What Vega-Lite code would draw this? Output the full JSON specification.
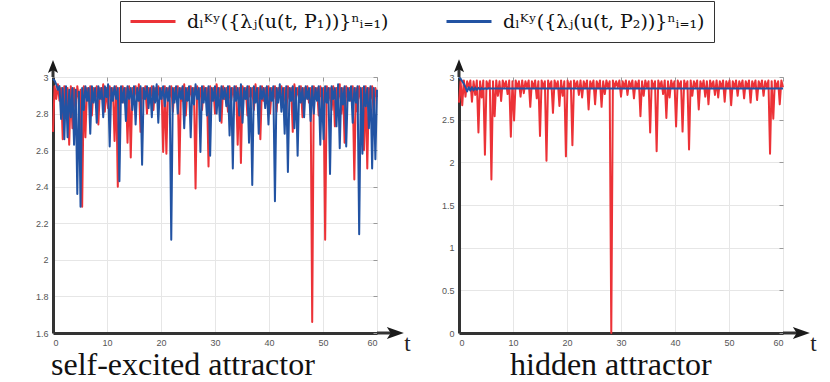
{
"$schema": "https://vega.github.io/schema/vega-lite/v6.json",
"background": "white",
"padding": {"left": 34, "top": 0, "right": 0, "bottom": 0},
"config": {
  "view": {"stroke": "#999", "strokeWidth": 1},
  "axis": {"labelFont": "Liberation Sans", "labelFontSize": 9, "labelColor": "#555"}
},
"datasets": {
"lr": [{"t":0,"v":2.70},{"t":0.3,"v":2.95},{"t":0.6,"v":2.88},{"t":0.9,"v":2.96},{"t":1.2,"v":2.87},{"t":1.5,"v":2.94},{"t":1.8,"v":2.66},{"t":2.1,"v":2.95},{"t":2.4,"v":2.80},{"t":2.7,"v":2.94},{"t":3.0,"v":2.63},{"t":3.3,"v":2.95},{"t":3.6,"v":2.72},{"t":3.9,"v":2.94},{"t":4.2,"v":2.82},{"t":4.5,"v":2.95},{"t":4.8,"v":2.88},{"t":5.1,"v":2.93},{"t":5.4,"v":2.29},{"t":5.7,"v":2.95},{"t":6.0,"v":2.67},{"t":6.3,"v":2.94},{"t":6.6,"v":2.87},{"t":6.9,"v":2.95},{"t":7.2,"v":2.79},{"t":7.5,"v":2.94},{"t":7.8,"v":2.89},{"t":8.1,"v":2.95},{"t":8.4,"v":2.74},{"t":8.7,"v":2.94},{"t":9.0,"v":2.88},{"t":9.3,"v":2.96},{"t":9.6,"v":2.81},{"t":9.9,"v":2.94},{"t":10.2,"v":2.83},{"t":10.5,"v":2.95},{"t":10.8,"v":2.89},{"t":11.1,"v":2.94},{"t":11.4,"v":2.65},{"t":11.7,"v":2.95},{"t":12.0,"v":2.40},{"t":12.3,"v":2.94},{"t":12.6,"v":2.88},{"t":12.9,"v":2.95},{"t":13.2,"v":2.86},{"t":13.5,"v":2.94},{"t":13.8,"v":2.64},{"t":14.1,"v":2.95},{"t":14.4,"v":2.56},{"t":14.7,"v":2.94},{"t":15.0,"v":2.89},{"t":15.3,"v":2.95},{"t":15.6,"v":2.87},{"t":15.9,"v":2.96},{"t":16.2,"v":2.70},{"t":16.5,"v":2.94},{"t":16.8,"v":2.88},{"t":17.1,"v":2.95},{"t":17.4,"v":2.80},{"t":17.7,"v":2.94},{"t":18.0,"v":2.89},{"t":18.3,"v":2.95},{"t":18.6,"v":2.82},{"t":18.9,"v":2.94},{"t":19.2,"v":2.87},{"t":19.5,"v":2.95},{"t":19.8,"v":2.88},{"t":20.1,"v":2.94},{"t":20.4,"v":2.59},{"t":20.7,"v":2.95},{"t":21.0,"v":2.58},{"t":21.3,"v":2.94},{"t":21.6,"v":2.89},{"t":21.9,"v":2.95},{"t":22.2,"v":2.81},{"t":22.5,"v":2.94},{"t":22.8,"v":2.88},{"t":23.1,"v":2.95},{"t":23.4,"v":2.47},{"t":23.7,"v":2.94},{"t":24.0,"v":2.87},{"t":24.3,"v":2.96},{"t":24.6,"v":2.79},{"t":24.9,"v":2.94},{"t":25.2,"v":2.89},{"t":25.5,"v":2.95},{"t":25.8,"v":2.86},{"t":26.1,"v":2.94},{"t":26.4,"v":2.39},{"t":26.7,"v":2.95},{"t":27.0,"v":2.88},{"t":27.3,"v":2.94},{"t":27.6,"v":2.82},{"t":27.9,"v":2.95},{"t":28.2,"v":2.89},{"t":28.5,"v":2.94},{"t":28.8,"v":2.51},{"t":29.1,"v":2.95},{"t":29.4,"v":2.87},{"t":29.7,"v":2.94},{"t":30.0,"v":2.80},{"t":30.3,"v":2.96},{"t":30.6,"v":2.89},{"t":30.9,"v":2.94},{"t":31.2,"v":2.75},{"t":31.5,"v":2.95},{"t":31.8,"v":2.88},{"t":32.1,"v":2.94},{"t":32.4,"v":2.81},{"t":32.7,"v":2.95},{"t":33.0,"v":2.87},{"t":33.3,"v":2.94},{"t":33.6,"v":2.89},{"t":33.9,"v":2.95},{"t":34.2,"v":2.63},{"t":34.5,"v":2.94},{"t":34.8,"v":2.53},{"t":35.1,"v":2.95},{"t":35.4,"v":2.88},{"t":35.7,"v":2.94},{"t":36.0,"v":2.79},{"t":36.3,"v":2.95},{"t":36.6,"v":2.89},{"t":36.9,"v":2.94},{"t":37.2,"v":2.82},{"t":37.5,"v":2.96},{"t":37.8,"v":2.88},{"t":38.1,"v":2.94},{"t":38.4,"v":2.66},{"t":38.7,"v":2.95},{"t":39.0,"v":2.87},{"t":39.3,"v":2.94},{"t":39.6,"v":2.89},{"t":39.9,"v":2.95},{"t":40.2,"v":2.80},{"t":40.5,"v":2.94},{"t":40.8,"v":2.88},{"t":41.1,"v":2.95},{"t":41.4,"v":2.81},{"t":41.7,"v":2.94},{"t":42.0,"v":2.89},{"t":42.3,"v":2.95},{"t":42.6,"v":2.86},{"t":42.9,"v":2.94},{"t":43.2,"v":2.80},{"t":43.5,"v":2.95},{"t":43.8,"v":2.88},{"t":44.1,"v":2.94},{"t":44.4,"v":2.70},{"t":44.7,"v":2.96},{"t":45.0,"v":2.89},{"t":45.3,"v":2.94},{"t":45.6,"v":2.87},{"t":45.9,"v":2.95},{"t":46.2,"v":2.78},{"t":46.5,"v":2.94},{"t":46.8,"v":2.88},{"t":47.1,"v":2.95},{"t":47.4,"v":2.86},{"t":47.7,"v":2.94},{"t":48.0,"v":1.66},{"t":48.3,"v":2.95},{"t":48.6,"v":2.88},{"t":48.9,"v":2.94},{"t":49.2,"v":2.79},{"t":49.5,"v":2.95},{"t":49.8,"v":2.89},{"t":50.1,"v":2.94},{"t":50.4,"v":2.11},{"t":50.7,"v":2.95},{"t":51.0,"v":2.87},{"t":51.3,"v":2.94},{"t":51.6,"v":2.82},{"t":51.9,"v":2.95},{"t":52.2,"v":2.73},{"t":52.5,"v":2.94},{"t":52.8,"v":2.88},{"t":53.1,"v":2.96},{"t":53.4,"v":2.80},{"t":53.7,"v":2.94},{"t":54.0,"v":2.64},{"t":54.3,"v":2.95},{"t":54.6,"v":2.89},{"t":54.9,"v":2.94},{"t":55.2,"v":2.87},{"t":55.5,"v":2.95},{"t":55.8,"v":2.44},{"t":56.1,"v":2.94},{"t":56.4,"v":2.81},{"t":56.7,"v":2.95},{"t":57.0,"v":2.88},{"t":57.3,"v":2.94},{"t":57.6,"v":2.60},{"t":57.9,"v":2.95},{"t":58.2,"v":2.50},{"t":58.5,"v":2.94},{"t":58.8,"v":2.88},{"t":59.1,"v":2.95},{"t":59.4,"v":2.79},{"t":59.7,"v":2.94},{"t":60.0,"v":2.89}],
"lb": [{"t":0,"v":2.99},{"t":0.3,"v":2.98},{"t":0.6,"v":2.96},{"t":0.9,"v":2.93},{"t":1.2,"v":2.95},{"t":1.5,"v":2.77},{"t":1.8,"v":2.94},{"t":2.1,"v":2.66},{"t":2.4,"v":2.95},{"t":2.7,"v":2.67},{"t":3.0,"v":2.93},{"t":3.3,"v":2.78},{"t":3.6,"v":2.94},{"t":3.9,"v":2.63},{"t":4.2,"v":2.93},{"t":4.5,"v":2.36},{"t":4.8,"v":2.92},{"t":5.1,"v":2.29},{"t":5.4,"v":2.94},{"t":5.7,"v":2.82},{"t":6.0,"v":2.95},{"t":6.3,"v":2.87},{"t":6.6,"v":2.94},{"t":6.9,"v":2.69},{"t":7.2,"v":2.95},{"t":7.5,"v":2.86},{"t":7.8,"v":2.94},{"t":8.1,"v":2.75},{"t":8.4,"v":2.95},{"t":8.7,"v":2.88},{"t":9.0,"v":2.94},{"t":9.3,"v":2.78},{"t":9.6,"v":2.95},{"t":9.9,"v":2.89},{"t":10.2,"v":2.96},{"t":10.5,"v":2.62},{"t":10.8,"v":2.94},{"t":11.1,"v":2.87},{"t":11.4,"v":2.95},{"t":11.7,"v":2.88},{"t":12.0,"v":2.94},{"t":12.3,"v":2.43},{"t":12.6,"v":2.95},{"t":12.9,"v":2.86},{"t":13.2,"v":2.94},{"t":13.5,"v":2.76},{"t":13.8,"v":2.95},{"t":14.1,"v":2.88},{"t":14.4,"v":2.94},{"t":14.7,"v":2.82},{"t":15.0,"v":2.95},{"t":15.3,"v":2.74},{"t":15.6,"v":2.94},{"t":15.9,"v":2.87},{"t":16.2,"v":2.95},{"t":16.5,"v":2.52},{"t":16.8,"v":2.94},{"t":17.1,"v":2.88},{"t":17.4,"v":2.95},{"t":17.7,"v":2.83},{"t":18.0,"v":2.94},{"t":18.3,"v":2.78},{"t":18.6,"v":2.95},{"t":18.9,"v":2.86},{"t":19.2,"v":2.96},{"t":19.5,"v":2.75},{"t":19.8,"v":2.94},{"t":20.1,"v":2.88},{"t":20.4,"v":2.95},{"t":20.7,"v":2.84},{"t":21.0,"v":2.94},{"t":21.3,"v":2.87},{"t":21.6,"v":2.95},{"t":21.9,"v":2.11},{"t":22.2,"v":2.94},{"t":22.5,"v":2.86},{"t":22.8,"v":2.95},{"t":23.1,"v":2.80},{"t":23.4,"v":2.94},{"t":23.7,"v":2.88},{"t":24.0,"v":2.95},{"t":24.3,"v":2.72},{"t":24.6,"v":2.94},{"t":24.9,"v":2.87},{"t":25.2,"v":2.95},{"t":25.5,"v":2.67},{"t":25.8,"v":2.94},{"t":26.1,"v":2.85},{"t":26.4,"v":2.96},{"t":26.7,"v":2.88},{"t":27.0,"v":2.94},{"t":27.3,"v":2.59},{"t":27.6,"v":2.95},{"t":27.9,"v":2.86},{"t":28.2,"v":2.94},{"t":28.5,"v":2.79},{"t":28.8,"v":2.95},{"t":29.1,"v":2.57},{"t":29.4,"v":2.94},{"t":29.7,"v":2.87},{"t":30.0,"v":2.95},{"t":30.3,"v":2.80},{"t":30.6,"v":2.94},{"t":30.9,"v":2.76},{"t":31.2,"v":2.95},{"t":31.5,"v":2.88},{"t":31.8,"v":2.94},{"t":32.1,"v":2.84},{"t":32.4,"v":2.95},{"t":32.7,"v":2.68},{"t":33.0,"v":2.94},{"t":33.3,"v":2.50},{"t":33.6,"v":2.95},{"t":33.9,"v":2.87},{"t":34.2,"v":2.94},{"t":34.5,"v":2.79},{"t":34.8,"v":2.96},{"t":35.1,"v":2.75},{"t":35.4,"v":2.94},{"t":35.7,"v":2.88},{"t":36.0,"v":2.95},{"t":36.3,"v":2.64},{"t":36.6,"v":2.94},{"t":36.9,"v":2.41},{"t":37.2,"v":2.95},{"t":37.5,"v":2.86},{"t":37.8,"v":2.94},{"t":38.1,"v":2.69},{"t":38.4,"v":2.95},{"t":38.7,"v":2.88},{"t":39.0,"v":2.94},{"t":39.3,"v":2.83},{"t":39.6,"v":2.95},{"t":39.9,"v":2.74},{"t":40.2,"v":2.94},{"t":40.5,"v":2.87},{"t":40.8,"v":2.95},{"t":41.1,"v":2.32},{"t":41.4,"v":2.94},{"t":41.7,"v":2.86},{"t":42.0,"v":2.96},{"t":42.3,"v":2.81},{"t":42.6,"v":2.94},{"t":42.9,"v":2.69},{"t":43.2,"v":2.95},{"t":43.5,"v":2.48},{"t":43.8,"v":2.94},{"t":44.1,"v":2.87},{"t":44.4,"v":2.95},{"t":44.7,"v":2.72},{"t":45.0,"v":2.94},{"t":45.3,"v":2.57},{"t":45.6,"v":2.95},{"t":45.9,"v":2.86},{"t":46.2,"v":2.94},{"t":46.5,"v":2.78},{"t":46.8,"v":2.95},{"t":47.1,"v":2.88},{"t":47.4,"v":2.94},{"t":47.7,"v":2.76},{"t":48.0,"v":2.95},{"t":48.3,"v":2.80},{"t":48.6,"v":2.94},{"t":48.9,"v":2.87},{"t":49.2,"v":2.95},{"t":49.5,"v":2.63},{"t":49.8,"v":2.94},{"t":50.1,"v":2.66},{"t":50.4,"v":2.95},{"t":50.7,"v":2.86},{"t":51.0,"v":2.94},{"t":51.3,"v":2.47},{"t":51.6,"v":2.95},{"t":51.9,"v":2.88},{"t":52.2,"v":2.94},{"t":52.5,"v":2.73},{"t":52.8,"v":2.96},{"t":53.1,"v":2.61},{"t":53.4,"v":2.94},{"t":53.7,"v":2.85},{"t":54.0,"v":2.95},{"t":54.3,"v":2.62},{"t":54.6,"v":2.94},{"t":54.9,"v":2.87},{"t":55.2,"v":2.95},{"t":55.5,"v":2.75},{"t":55.8,"v":2.94},{"t":56.1,"v":2.86},{"t":56.4,"v":2.95},{"t":56.7,"v":2.14},{"t":57.0,"v":2.94},{"t":57.3,"v":2.58},{"t":57.6,"v":2.95},{"t":57.9,"v":2.84},{"t":58.2,"v":2.94},{"t":58.5,"v":2.72},{"t":58.8,"v":2.95},{"t":59.1,"v":2.50},{"t":59.4,"v":2.94},{"t":59.7,"v":2.55},{"t":60.0,"v":2.93}],
"rr": [{"t":0,"v":2.70},{"t":0.3,"v":2.95},{"t":0.6,"v":2.67},{"t":0.9,"v":2.96},{"t":1.2,"v":2.77},{"t":1.5,"v":2.95},{"t":1.8,"v":2.88},{"t":2.1,"v":2.96},{"t":2.4,"v":2.71},{"t":2.7,"v":2.95},{"t":3.0,"v":2.79},{"t":3.3,"v":2.96},{"t":3.6,"v":2.35},{"t":3.9,"v":2.95},{"t":4.2,"v":2.76},{"t":4.5,"v":2.96},{"t":4.8,"v":2.09},{"t":5.1,"v":2.95},{"t":5.4,"v":2.88},{"t":5.7,"v":2.96},{"t":6.0,"v":1.80},{"t":6.3,"v":2.95},{"t":6.6,"v":2.54},{"t":6.9,"v":2.96},{"t":7.2,"v":2.78},{"t":7.5,"v":2.95},{"t":7.8,"v":2.72},{"t":8.1,"v":2.96},{"t":8.4,"v":2.88},{"t":8.7,"v":2.95},{"t":9.0,"v":2.80},{"t":9.3,"v":2.96},{"t":9.6,"v":2.30},{"t":9.9,"v":2.95},{"t":10.2,"v":2.49},{"t":10.5,"v":2.96},{"t":10.8,"v":2.87},{"t":11.1,"v":2.95},{"t":11.4,"v":2.77},{"t":11.7,"v":2.96},{"t":12.0,"v":2.81},{"t":12.3,"v":2.95},{"t":12.6,"v":2.88},{"t":12.9,"v":2.96},{"t":13.2,"v":2.65},{"t":13.5,"v":2.95},{"t":13.8,"v":2.87},{"t":14.1,"v":2.96},{"t":14.4,"v":2.75},{"t":14.7,"v":2.95},{"t":15.0,"v":2.31},{"t":15.3,"v":2.96},{"t":15.6,"v":2.88},{"t":15.9,"v":2.95},{"t":16.2,"v":2.02},{"t":16.5,"v":2.96},{"t":16.8,"v":2.87},{"t":17.1,"v":2.95},{"t":17.4,"v":2.58},{"t":17.7,"v":2.96},{"t":18.0,"v":2.88},{"t":18.3,"v":2.95},{"t":18.6,"v":2.66},{"t":18.9,"v":2.96},{"t":19.2,"v":2.78},{"t":19.5,"v":2.95},{"t":19.8,"v":2.07},{"t":20.1,"v":2.96},{"t":20.4,"v":2.87},{"t":20.7,"v":2.95},{"t":21.0,"v":2.20},{"t":21.3,"v":2.96},{"t":21.6,"v":2.88},{"t":21.9,"v":2.95},{"t":22.2,"v":2.79},{"t":22.5,"v":2.96},{"t":22.8,"v":2.76},{"t":23.1,"v":2.95},{"t":23.4,"v":2.87},{"t":23.7,"v":2.96},{"t":24.0,"v":2.62},{"t":24.3,"v":2.95},{"t":24.6,"v":2.88},{"t":24.9,"v":2.96},{"t":25.2,"v":2.68},{"t":25.5,"v":2.95},{"t":25.8,"v":2.87},{"t":26.1,"v":2.96},{"t":26.4,"v":2.65},{"t":26.7,"v":2.95},{"t":27.0,"v":2.80},{"t":27.3,"v":2.96},{"t":27.6,"v":2.88},{"t":27.9,"v":2.95},{"t":28.2,"v":0.0},{"t":28.5,"v":2.96},{"t":28.8,"v":2.87},{"t":29.1,"v":2.95},{"t":29.4,"v":2.88},{"t":29.7,"v":2.96},{"t":30.0,"v":2.77},{"t":30.3,"v":2.95},{"t":30.6,"v":2.87},{"t":30.9,"v":2.96},{"t":31.2,"v":2.79},{"t":31.5,"v":2.95},{"t":31.8,"v":2.88},{"t":32.1,"v":2.96},{"t":32.4,"v":2.75},{"t":32.7,"v":2.95},{"t":33.0,"v":2.87},{"t":33.3,"v":2.96},{"t":33.6,"v":2.54},{"t":33.9,"v":2.95},{"t":34.2,"v":2.78},{"t":34.5,"v":2.96},{"t":34.8,"v":2.88},{"t":35.1,"v":2.95},{"t":35.4,"v":2.35},{"t":35.7,"v":2.96},{"t":36.0,"v":2.87},{"t":36.3,"v":2.95},{"t":36.6,"v":2.13},{"t":36.9,"v":2.96},{"t":37.2,"v":2.88},{"t":37.5,"v":2.95},{"t":37.8,"v":2.80},{"t":38.1,"v":2.96},{"t":38.4,"v":2.52},{"t":38.7,"v":2.95},{"t":39.0,"v":2.76},{"t":39.3,"v":2.96},{"t":39.6,"v":2.87},{"t":39.9,"v":2.95},{"t":40.2,"v":2.42},{"t":40.5,"v":2.96},{"t":40.8,"v":2.88},{"t":41.1,"v":2.95},{"t":41.4,"v":2.36},{"t":41.7,"v":2.96},{"t":42.0,"v":2.87},{"t":42.3,"v":2.95},{"t":42.6,"v":2.15},{"t":42.9,"v":2.96},{"t":43.2,"v":2.78},{"t":43.5,"v":2.95},{"t":43.8,"v":2.88},{"t":44.1,"v":2.96},{"t":44.4,"v":2.62},{"t":44.7,"v":2.95},{"t":45.0,"v":2.87},{"t":45.3,"v":2.96},{"t":45.6,"v":2.77},{"t":45.9,"v":2.95},{"t":46.2,"v":2.68},{"t":46.5,"v":2.96},{"t":46.8,"v":2.88},{"t":47.1,"v":2.95},{"t":47.4,"v":2.79},{"t":47.7,"v":2.96},{"t":48.0,"v":2.76},{"t":48.3,"v":2.95},{"t":48.6,"v":2.87},{"t":48.9,"v":2.96},{"t":49.2,"v":2.71},{"t":49.5,"v":2.95},{"t":49.8,"v":2.88},{"t":50.1,"v":2.96},{"t":50.4,"v":2.67},{"t":50.7,"v":2.95},{"t":51.0,"v":2.87},{"t":51.3,"v":2.96},{"t":51.6,"v":2.78},{"t":51.9,"v":2.95},{"t":52.2,"v":2.88},{"t":52.5,"v":2.96},{"t":52.8,"v":2.75},{"t":53.1,"v":2.95},{"t":53.4,"v":2.87},{"t":53.7,"v":2.96},{"t":54.0,"v":2.70},{"t":54.3,"v":2.95},{"t":54.6,"v":2.88},{"t":54.9,"v":2.96},{"t":55.2,"v":2.73},{"t":55.5,"v":2.95},{"t":55.8,"v":2.87},{"t":56.1,"v":2.96},{"t":56.4,"v":2.78},{"t":56.7,"v":2.95},{"t":57.0,"v":2.88},{"t":57.3,"v":2.96},{"t":57.6,"v":2.10},{"t":57.9,"v":2.95},{"t":58.2,"v":2.51},{"t":58.5,"v":2.96},{"t":58.8,"v":2.87},{"t":59.1,"v":2.95},{"t":59.4,"v":2.68},{"t":59.7,"v":2.96},{"t":60.0,"v":2.88}],
"rb": [{"t":0,"v":2.99},{"t":0.3,"v":2.98},{"t":0.6,"v":2.95},{"t":0.9,"v":2.92},{"t":1.2,"v":2.88},{"t":1.5,"v":2.83},{"t":1.8,"v":2.88},{"t":2.1,"v":2.84},{"t":2.4,"v":2.88},{"t":2.7,"v":2.845},{"t":3.0,"v":2.875},{"t":3.3,"v":2.85},{"t":3.6,"v":2.872},{"t":3.9,"v":2.855},{"t":4.2,"v":2.87},{"t":4.5,"v":2.858},{"t":4.8,"v":2.868},{"t":5.1,"v":2.86},{"t":5.4,"v":2.867},{"t":6,"v":2.864},{"t":10,"v":2.865},{"t":20,"v":2.865},{"t":30,"v":2.865},{"t":40,"v":2.865},{"t":50,"v":2.865},{"t":60,"v":2.865}],
"extL": [{"x":0,"y":3,"x2":0,"y2":3.055},{"x":60,"y":1.6,"x2":63,"y2":1.6}],
"extR": [{"x":0,"y":3,"x2":0,"y2":3.13},{"x":60,"y":0,"x2":63,"y2":0}],
"upL": [{"x":0,"y":3.058}],
"upR": [{"x":0,"y":3.133}],
"rtL": [{"x":63.4,"y":1.6}],
"rtR": [{"x":63.4,"y":0}]
},
"spacing": 82,
"bounds": "flush",
"hconcat": [
{
  "width": 324, "height": 256,
  "title": {"text": "self-excited attractor", "orient": "bottom", "anchor": "start", "frame": "group", "dx": -2, "offset": -5, "font": "Liberation Serif", "fontSize": 32, "fontWeight": "normal", "color": "#111"},
  "resolve": {"axis": {"x": "independent", "y": "independent"}},
  "layer": [
    {"data": {"name": "lr"}, "mark": {"type": "line", "strokeWidth": 2, "strokeJoin": "round"},
     "encoding": {
       "x": {"field": "t", "type": "quantitative", "scale": {"domain": [0, 60], "nice": false},
             "axis": {"orient": "bottom", "values": [0,10,20,30,40,50,60], "grid": true, "gridColor": "#E6E6E6", "domainColor": "#333", "domainWidth": 3, "ticks": false, "labelPadding": 5,
                      "title": "t", "titleFont": "Liberation Serif", "titleFontSize": 23, "titleFontWeight": "normal", "titleColor": "#222", "titleX": 354, "titleY": 10, "titleAlign": "center", "titleBaseline": "middle"}},
       "y": {"field": "v", "type": "quantitative", "scale": {"domain": [1.6, 3], "nice": false, "zero": false},
             "axis": {"orient": "left", "values": [1.6,1.8,2,2.2,2.4,2.6,2.8,3], "format": "~g", "grid": true, "gridColor": "#E6E6E6", "domainColor": "#333", "domainWidth": 3, "ticks": false, "labelPadding": 5, "title": null}},
       "color": {"datum": "dₗᴷʸ({λⱼ(u(t, P₁))}ⁿᵢ₌₁)",
                 "scale": {"domain": ["dₗᴷʸ({λⱼ(u(t, P₁))}ⁿᵢ₌₁)", "dₗᴷʸ({λⱼ(u(t, P₂))}ⁿᵢ₌₁)"], "range": ["#EC3237", "#2253A3"]},
                 "legend": {"orient": "none", "legendX": 67, "legendY": -76, "direction": "horizontal", "title": null, "symbolType": "stroke", "symbolSize": 2025, "symbolStrokeWidth": 3, "clipHeight": 23,
                            "labelFont": "DejaVu Serif", "labelFontSize": 19, "labelColor": "#111", "labelLimit": 500, "labelOffset": 10, "columnPadding": 56, "padding": 9,
                            "strokeColor": "#333", "fillColor": "white"}}
     }},
    {"data": {"name": "lb"}, "mark": {"type": "line", "strokeWidth": 2, "strokeJoin": "round"},
     "encoding": {
       "x": {"field": "t", "type": "quantitative", "axis": {"orient": "top", "values": [0,10,20,30,40,50,60], "grid": false, "domain": false, "labels": false, "ticks": true, "tickSize": -4, "tickColor": "#999", "title": null}},
       "y": {"field": "v", "type": "quantitative", "axis": {"orient": "right", "values": [1.6,1.8,2,2.2,2.4,2.6,2.8,3], "grid": false, "domain": false, "labels": false, "ticks": true, "tickSize": -4, "tickColor": "#999", "title": null}},
       "color": {"datum": "dₗᴷʸ({λⱼ(u(t, P₂))}ⁿᵢ₌₁)"}
     }},
    {"data": {"name": "extL"}, "mark": {"type": "rule", "strokeWidth": 3, "color": "#333"},
     "encoding": {"x": {"field": "x", "type": "quantitative", "axis": null}, "y": {"field": "y", "type": "quantitative", "axis": null}, "x2": {"field": "x2"}, "y2": {"field": "y2"}}},
    {"data": {"name": "upL"}, "mark": {"type": "point", "shape": "M0,-1L0.78,1L0,0.55L-0.78,1Z", "size": 169, "filled": true, "color": "#1a1a1a", "opacity": 1},
     "encoding": {"x": {"field": "x", "type": "quantitative", "axis": null}, "y": {"field": "y", "type": "quantitative", "axis": null}}},
    {"data": {"name": "rtL"}, "mark": {"type": "point", "shape": "M1,0L-1,-0.7L-0.55,0L-1,0.7Z", "size": 289, "filled": true, "color": "#1a1a1a", "opacity": 1},
     "encoding": {"x": {"field": "x", "type": "quantitative", "axis": null}, "y": {"field": "y", "type": "quantitative", "axis": null}}}
  ]
},
{
  "width": 324, "height": 256,
  "title": {"text": "hidden attractor", "orient": "bottom", "anchor": "start", "frame": "group", "dx": 51, "offset": -5, "font": "Liberation Serif", "fontSize": 32, "fontWeight": "normal", "color": "#111"},
  "resolve": {"axis": {"x": "independent", "y": "independent"}},
  "layer": [
    {"data": {"name": "rr"}, "mark": {"type": "line", "strokeWidth": 2, "strokeJoin": "round"},
     "encoding": {
       "x": {"field": "t", "type": "quantitative", "scale": {"domain": [0, 60], "nice": false},
             "axis": {"orient": "bottom", "values": [0,10,20,30,40,50,60], "grid": true, "gridColor": "#E6E6E6", "domainColor": "#333", "domainWidth": 3, "ticks": false, "labelPadding": 5,
                      "title": "t", "titleFont": "Liberation Serif", "titleFontSize": 23, "titleFontWeight": "normal", "titleColor": "#222", "titleX": 354, "titleY": 10, "titleAlign": "center", "titleBaseline": "middle"}},
       "y": {"field": "v", "type": "quantitative", "scale": {"domain": [0, 3], "nice": false},
             "axis": {"orient": "left", "values": [0,0.5,1,1.5,2,2.5,3], "format": "~g", "grid": true, "gridColor": "#E6E6E6", "domainColor": "#333", "domainWidth": 3, "ticks": false, "labelPadding": 5, "title": null}},
       "color": {"datum": "dₗᴷʸ({λⱼ(u(t, P₁))}ⁿᵢ₌₁)"}
     }},
    {"data": {"name": "rb"}, "mark": {"type": "line", "strokeWidth": 2, "strokeJoin": "round"},
     "encoding": {
       "x": {"field": "t", "type": "quantitative", "axis": {"orient": "top", "values": [0,10,20,30,40,50,60], "grid": false, "domain": false, "labels": false, "ticks": true, "tickSize": -4, "tickColor": "#999", "title": null}},
       "y": {"field": "v", "type": "quantitative", "axis": {"orient": "right", "values": [0,0.5,1,1.5,2,2.5,3], "grid": false, "domain": false, "labels": false, "ticks": true, "tickSize": -4, "tickColor": "#999", "title": null}},
       "color": {"datum": "dₗᴷʸ({λⱼ(u(t, P₂))}ⁿᵢ₌₁)"}
     }},
    {"data": {"name": "extR"}, "mark": {"type": "rule", "strokeWidth": 3, "color": "#333"},
     "encoding": {"x": {"field": "x", "type": "quantitative", "axis": null}, "y": {"field": "y", "type": "quantitative", "axis": null}, "x2": {"field": "x2"}, "y2": {"field": "y2"}}},
    {"data": {"name": "upR"}, "mark": {"type": "point", "shape": "M0,-1L0.78,1L0,0.55L-0.78,1Z", "size": 169, "filled": true, "color": "#1a1a1a", "opacity": 1},
     "encoding": {"x": {"field": "x", "type": "quantitative", "axis": null}, "y": {"field": "y", "type": "quantitative", "axis": null}}},
    {"data": {"name": "rtR"}, "mark": {"type": "point", "shape": "M1,0L-1,-0.7L-0.55,0L-1,0.7Z", "size": 289, "filled": true, "color": "#1a1a1a", "opacity": 1},
     "encoding": {"x": {"field": "x", "type": "quantitative", "axis": null}, "y": {"field": "y", "type": "quantitative", "axis": null}}}
  ]
}
]
}
